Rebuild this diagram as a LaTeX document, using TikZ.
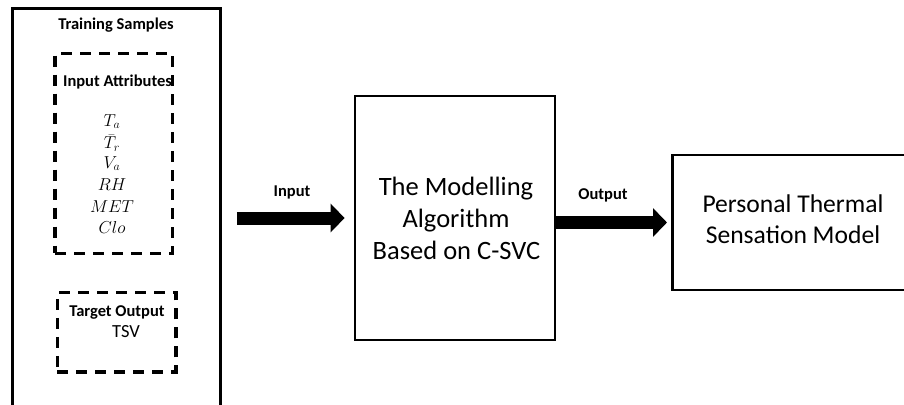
\documentclass[tikz,border=0pt]{standalone}
\usepackage{fontspec}
\setmainfont{Carlito}
\usetikzlibrary{arrows.meta}
\begin{document}
\begin{tikzpicture}[x=1pt,y=-1pt,
  solidbox/.style={draw, line width=2.8pt, inner sep=0pt},
  dashbox/.style={draw, line width=3.5pt, dash pattern=on 11pt off 8pt, inner sep=0pt},
  lbl/.style={font=\fontsize{16.5}{19}\selectfont\bfseries, inner sep=0pt, anchor=base},
  mth/.style={font=\fontsize{17}{20}\selectfont, inner sep=0pt, anchor=base},
  bigtxt/.style={font=\fontsize{26.5}{31.5}\selectfont, inner sep=0pt, anchor=base},
  bigarrow/.style={line width=13pt, -{Triangle[length=14pt,width=28pt]}}
]
\useasboundingbox (0,0) rectangle (904,404);
% left box
\node[solidbox, anchor=north west, minimum width=208pt, minimum height=410pt] (train) at (11,7) {};
\node[lbl] (traint) at (116,30) {Training Samples};
\node[dashbox, anchor=north west, minimum width=117.4pt, minimum height=200pt] (inattr) at (53.3,51.7) {};
\node[lbl] (inattrt) at (117.5,86.5) {Input Attributes};
\node[mth] (m1) at (112,126) {$T_a$};
\node[mth] (m2) at (112,148.5) {$\bar{T}_r$};
\node[mth] (m3) at (112,168) {$V_a$};
\node[mth] (m4) at (112,190) {$RH$};
\node[mth] (m5) at (112,212) {$MET$};
\node[mth] (m6) at (112,233) {$Clo$};
\node[dashbox, anchor=north west, minimum width=118.6pt, minimum height=79.3pt] (target) at (55.7,290.7) {};
\node[lbl] (targett) at (117,316) {Target Output};
\node[mth, font=\fontsize{18.5}{21}\selectfont] (tsv) at (126,337.5) {TSV};
% middle box
\node[solidbox, minimum width=200pt, minimum height=244pt] (algo) at (455,218) {};
\node[bigtxt] (a1) at (456,195) {The Modelling};
\node[bigtxt] (a2) at (456,227) {Algorithm};
\node[bigtxt] (a3) at (456.5,259) {Based on C-SVC};
% right box
\node[solidbox, anchor=west, minimum width=260pt, minimum height=135pt] (model) at (671,222.5) {};
\node[bigtxt, font=\fontsize{25.6}{31}\selectfont] (r1) at (793,212.7) {Personal Thermal};
\node[bigtxt, font=\fontsize{25.6}{31}\selectfont] (r2) at (793,243.5) {Sensation Model};
% arrows
\draw[bigarrow, shorten <=15pt, shorten >=9pt] (train.east |- algo.west) -- (algo.west);
\node[lbl] (inl) at (292,196) {Input};
\draw[bigarrow, shorten >=4pt] (algo.east |- model.west) -- (model.west);
\node[lbl] (outl) at (603,199) {Output};
\end{tikzpicture}
\end{document}
